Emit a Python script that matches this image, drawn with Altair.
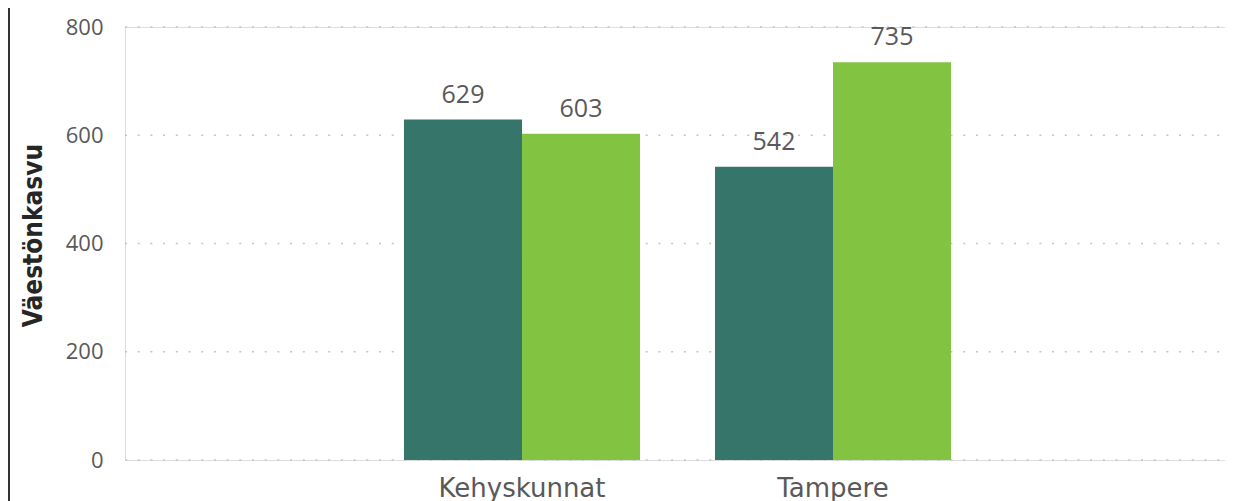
import altair as alt
import pandas as pd

categories = ["Kehyskunnat", "Kehyskunnat", "Tampere", "Tampere"]
series = ["Sarja 1", "Sarja 2", "Sarja 1", "Sarja 2"]
values = [629, 603, 542, 735]

series_order = ["Sarja 1", "Sarja 2"]
series_colors = ["#35756a", "#82c342"]
y_ticks = [0, 200, 400, 600, 800]

df = pd.DataFrame({"alue": categories, "sarja": series, "arvo": values})
grid_df = pd.DataFrame({"arvo": y_ticks})

W, H = 1100, 433

x = alt.X(
    "alue:N",
    title=None,
    sort=["Kehyskunnat", "Tampere"],
    scale=alt.Scale(range=[241.5, 863.5], paddingInner=0.241, paddingOuter=0.1205),
    axis=alt.Axis(
        labelAngle=0,
        domain=False,
        ticks=False,
        tickSize=0,
        grid=False,
        labelPadding=15,
        labelFont="DejaVu Sans",
        labelFontSize=26,
        labelColor="#595959",
    ),
)

yscale = alt.Scale(domain=[0, 800], nice=False)

y = alt.Y(
    "arvo:Q",
    title="Väestönkasvu",
    scale=yscale,
    axis=alt.Axis(
        values=y_ticks,
        domain=False,
        ticks=False,
        tickSize=0,
        grid=False,
        labelPadding=22,
        labelFont="Open Sans",
        labelFontSize=22,
        labelColor="#595959",
        titleFont="DejaVu Sans Condensed",
        titleFontSize=26,
        titleFontWeight="bold",
        titleColor="#262626",
        titleAngle=270,
        titleX=-84,
        titleY=208,
        titleAlign="center",
        titleBaseline="alphabetic",
    ),
)

grid = alt.Chart(grid_df).mark_rule(
    color="#c4c4c4", strokeDash=[2, 10.7], strokeWidth=1.6
).encode(
    y=alt.Y("arvo:Q", scale=yscale),
    x=alt.value(0),
    x2=alt.value(W),
)

base = alt.Chart(df)

bars = base.mark_bar().encode(
    x=x,
    y=y,
    xOffset=alt.XOffset("sarja:N", sort=series_order, scale=alt.Scale(paddingInner=0, paddingOuter=0)),
    color=alt.Color("sarja:N", scale=alt.Scale(domain=series_order, range=series_colors), legend=None),
)

labels = base.mark_text(
    baseline="alphabetic", dy=-17, font="Open Sans", fontSize=25, color="#595959"
).encode(
    x=x,
    y=y,
    xOffset=alt.XOffset("sarja:N", sort=series_order),
    text=alt.Text("arvo:Q"),
)

border = base.mark_rule(color="#333333", strokeWidth=2).encode(
    x=alt.value(-116),
    y=alt.value(-19),
    y2=alt.value(H + 41),
)

chart = (
    alt.layer(grid, bars, labels, border)
    .properties(
        width=W,
        height=H,
        autosize=alt.AutoSizeParams(type="none"),
        padding={"left": 117, "top": 19, "right": 0, "bottom": 41},
    )
    .configure_view(strokeWidth=0, stroke="transparent")
    .configure(background="white")
)

chart.save("out.html", embed_options={"renderer": "svg", "actions": False})
